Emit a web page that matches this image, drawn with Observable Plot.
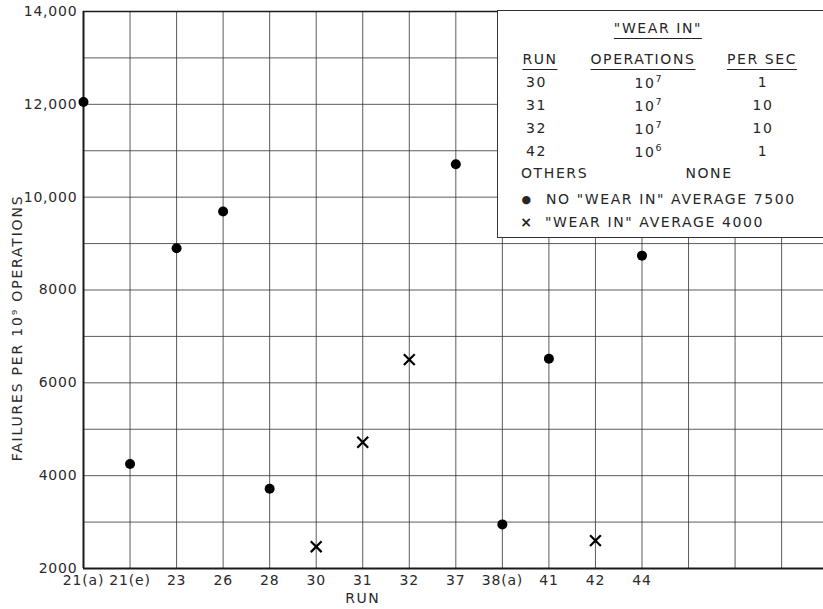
<!DOCTYPE html>
<html><head><meta charset="utf-8">
<script src="https://cdn.jsdelivr.net/npm/d3@7"></script>
<script src="https://cdn.jsdelivr.net/npm/@observablehq/plot@0.6"></script>
<style>
body{margin:0;background:#fff;}
#wrap{position:relative;width:823px;height:609px;overflow:hidden;font-family:"DejaVu Sans",sans-serif;color:#262626;}
#legend{position:absolute;left:497px;top:10px;width:340px;height:228px;background:#fff;border:1.5px solid #333;box-sizing:border-box;}
.t,.l{position:absolute;white-space:nowrap;font-size:14px;letter-spacing:1.6px;line-height:1;}
.t{transform:translate(-50%,-50%);}
.l{transform:translate(0,-50%);}
.u{border-bottom:1.3px solid #222;padding-bottom:2px;}
sup{font-size:9.5px;vertical-align:6px;letter-spacing:0;}
</style></head>
<body><div id="wrap"></div>
<script>
// ---- data ----
const runs = ["21(a)", "21(e)", "23", "26", "28", "30", "31", "32", "37", "38(a)", "41", "42", "44"];
const failures = [12050, 4250, 8900, 9690, 3720, 2470, 4720, 6500, 10710, 2950, 6520, 2600, 8740];
const wearIn = [false, false, false, false, false, true, true, true, false, false, false, true, false];
const yTicks = [2000, 4000, 6000, 8000, 10000, 12000, 14000];
const legendTitle = '"WEAR IN"';
const legendHeaders = ["RUN", "OPERATIONS", "PER SEC"];
const legendRuns = ["30", "31", "32", "42"];
const legendOpsExp = [7, 7, 7, 6];
const legendPerSec = ["1", "10", "10", "1"];
const othersText = ["OTHERS", "NONE"];
const keyTexts = ['NO "WEAR IN" AVERAGE 7500', '"WEAR IN" AVERAGE 4000'];
const yLabel = "FAILURES PER 10⁹ OPERATIONS";
const xLabel = "RUN";

const data = runs.map((r, i) => ({i, run: r, value: failures[i], wear: wearIn[i]}));
const ink = "#1a1a1a";

const plot = Plot.plot({
  width: 823, height: 609,
  marginLeft: 83, marginRight: 0, marginTop: 11, marginBottom: 41,
  x: {type: "linear", domain: [0, 15.9], axis: null},
  y: {domain: [2000, 14000], axis: null},
  style: {fontFamily: '"DejaVu Sans", sans-serif', fontSize: "14px", color: "#2a2a2a", background: "#fff"},
  marks: [
    Plot.gridX(d3.range(0, 16), {stroke: "#333", strokeOpacity: 0.8, strokeWidth: 1}),
    Plot.gridY(d3.range(2000, 14001, 1000), {stroke: "#333", strokeOpacity: 0.8, strokeWidth: 1}),
    Plot.ruleX([0], {stroke: ink, strokeWidth: 2}),
    Plot.ruleY([2000], {stroke: ink, strokeWidth: 2}),
    Plot.ruleY([14000], {stroke: ink, strokeWidth: 1.6}),
    Plot.axisY(yTicks, {tickSize: 0, tickPadding: 6, label: null, fontSize: 14,
      tickFormat: d => d >= 10000 ? d3.format(",")(d) : String(d)}),
    Plot.axisX(d3.range(runs.length), {tickSize: 0, tickPadding: 7, label: null, fontSize: 14,
      tickFormat: i => runs[i]}),
    Plot.text([xLabel], {x: (runs.length - 1) / 2, frameAnchor: "bottom", dy: 34, fontSize: 14}),
    Plot.text([yLabel], {frameAnchor: "left", textAnchor: "middle", dx: -66, dy: 38, rotate: -90, fontSize: 14}),
    Plot.dot(data.filter(d => !d.wear), {x: "i", y: "value", r: 5, fill: "#000"}),
    Plot.dot(data.filter(d => d.wear), {x: "i", y: "value", symbol: "times", r: 5, stroke: "#000", strokeWidth: 2.2})
  ]
});
const wrap = document.getElementById("wrap");
plot.style.letterSpacing = "0.8px";
d3.select(plot).selectAll("text")
  .filter(function() { return this.textContent === yLabel; })
  .attr("letter-spacing", "1.8px");
d3.select(plot).selectAll("text")
  .filter(function() { return this.textContent === xLabel; })
  .attr("letter-spacing", "1.5px");
wrap.appendChild(plot);

// ---- legend (annotation box) ----
const box = document.createElement("div");
box.id = "legend";
wrap.appendChild(box);
function put(html, x, y, cls) {
  const s = document.createElement("span");
  s.className = cls;
  s.style.left = x + "px";
  s.style.top = y + "px";
  s.innerHTML = html;
  wrap.appendChild(s);
  return s;
}
put('<span class="u">' + legendTitle + '</span>', 658, 28, "t");
put('<span class="u">' + legendHeaders[0] + '</span>', 540, 59, "t");
put('<span class="u">' + legendHeaders[1] + '</span>', 643, 59, "t");
put('<span class="u">' + legendHeaders[2] + '</span>', 762, 59, "t");
legendRuns.forEach((r, k) => {
  const y = 82 + k * 23;
  put(r, 526, y, "l");
  put("10<sup>" + legendOpsExp[k] + "</sup>", 648, y, "t");
  put(legendPerSec[k], 763, y, "t");
});
put(othersText[0], 521, 173, "l");
put(othersText[1], 709, 173, "t");
put("●", 527, 199, "t").style.fontSize = "11px";
put(keyTexts[0], 546, 199, "l");
put("×", 527, 222, "t").style.fontWeight = "bold";
put(keyTexts[1], 545, 222, "l");
</script>
</body></html>
